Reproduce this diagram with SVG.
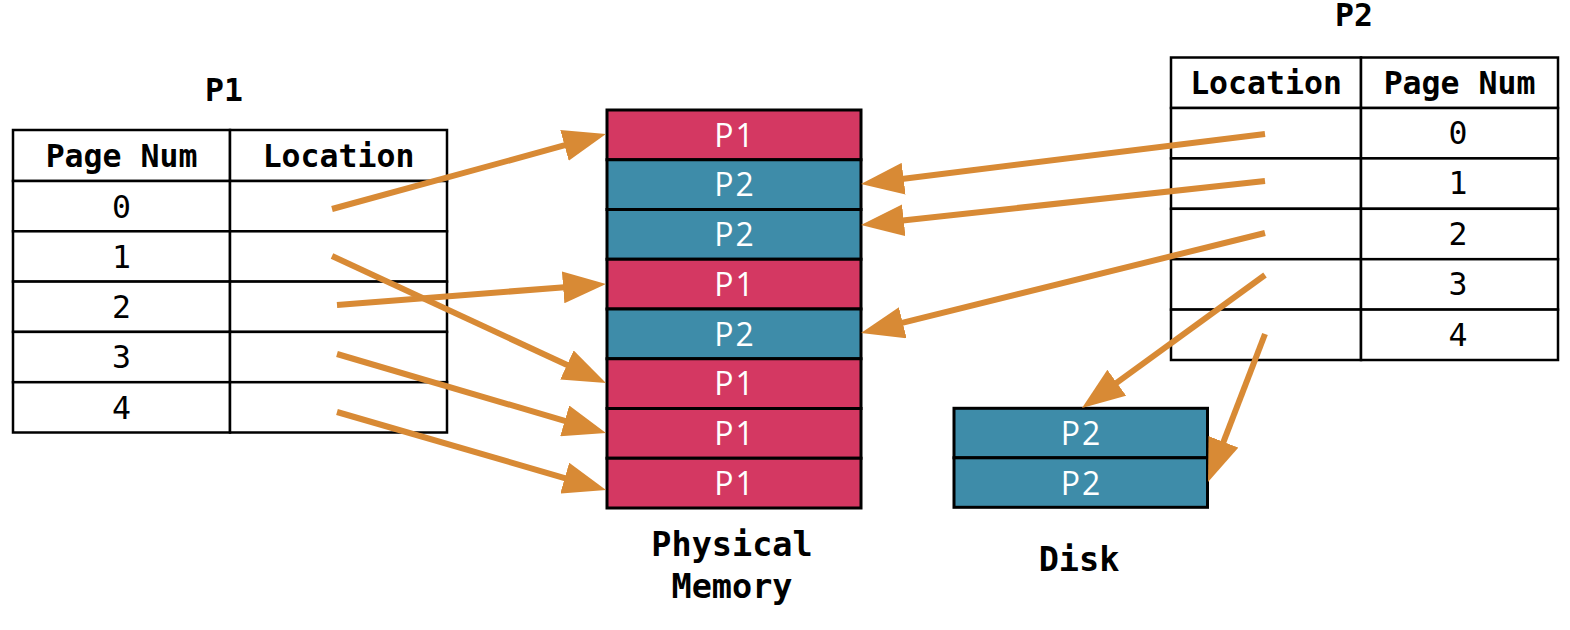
<svg xmlns="http://www.w3.org/2000/svg" width="1570" height="630" viewBox="0 0 1570 630">
<style>
.cell{fill:#fff;stroke:#000;stroke-width:2.5}
.mono{font-family:"DejaVu Sans Mono","Liberation Mono",monospace;font-size:31.5px;fill:#000;text-anchor:middle}
.b{font-weight:bold}
.lbl{font-size:33.5px}
.p1{fill:#D43862;stroke:#000;stroke-width:3}
.p2{fill:#3E8CA9;stroke:#000;stroke-width:3}
.blk{font-family:"Open Sans","Noto Sans",sans-serif;font-size:32px;letter-spacing:2px;fill:#fff;text-anchor:middle}
.arr{stroke:#D88A35;stroke-width:6;fill:none;marker-end:url(#ah)}
</style>
<defs>
<marker id="ah" markerUnits="userSpaceOnUse" markerWidth="43" markerHeight="32" viewBox="0 0 43 32" refX="8" refY="16" orient="auto">
<path d="M0,0 L43,16 L0,32 z" fill="#D88A35"/>
</marker>
</defs>
<rect width="1570" height="630" fill="#fff"/>

<g id="p1-table">
<text class="mono b" x="224" y="101">P1</text>
<rect class="cell" x="13" y="130" width="217" height="51"/>
<rect class="cell" x="230" y="130" width="217" height="51"/>
<rect class="cell" x="13" y="181" width="217" height="50.3"/>
<rect class="cell" x="230" y="181" width="217" height="50.3"/>
<rect class="cell" x="13" y="231.3" width="217" height="50.3"/>
<rect class="cell" x="230" y="231.3" width="217" height="50.3"/>
<rect class="cell" x="13" y="281.6" width="217" height="50.3"/>
<rect class="cell" x="230" y="281.6" width="217" height="50.3"/>
<rect class="cell" x="13" y="331.9" width="217" height="50.3"/>
<rect class="cell" x="230" y="331.9" width="217" height="50.3"/>
<rect class="cell" x="13" y="382.2" width="217" height="50.3"/>
<rect class="cell" x="230" y="382.2" width="217" height="50.3"/>
<text class="mono b" x="121.5" y="167">Page Num</text>
<text class="mono b" x="338.5" y="167">Location</text>
<text class="mono" x="121.5" y="217.5">0</text>
<text class="mono" x="121.5" y="267.8">1</text>
<text class="mono" x="121.5" y="318.1">2</text>
<text class="mono" x="121.5" y="368.4">3</text>
<text class="mono" x="121.5" y="418.7">4</text>
</g>

<g id="p2-table">
<text class="mono b" x="1354" y="26">P2</text>
<rect class="cell" x="1171" y="57.5" width="190" height="50.5"/>
<rect class="cell" x="1361" y="57.5" width="197" height="50.5"/>
<rect class="cell" x="1171" y="108" width="190" height="50.4"/>
<rect class="cell" x="1361" y="108" width="197" height="50.4"/>
<rect class="cell" x="1171" y="158.4" width="190" height="50.4"/>
<rect class="cell" x="1361" y="158.4" width="197" height="50.4"/>
<rect class="cell" x="1171" y="208.8" width="190" height="50.4"/>
<rect class="cell" x="1361" y="208.8" width="197" height="50.4"/>
<rect class="cell" x="1171" y="259.2" width="190" height="50.4"/>
<rect class="cell" x="1361" y="259.2" width="197" height="50.4"/>
<rect class="cell" x="1171" y="309.6" width="190" height="50.4"/>
<rect class="cell" x="1361" y="309.6" width="197" height="50.4"/>
<text class="mono b" x="1266" y="94">Location</text>
<text class="mono b" x="1459.5" y="94">Page Num</text>
<text class="mono" x="1458" y="144">0</text>
<text class="mono" x="1458" y="194.4">1</text>
<text class="mono" x="1458" y="244.8">2</text>
<text class="mono" x="1458" y="295.2">3</text>
<text class="mono" x="1458" y="345.6">4</text>
</g>

<g id="physical-memory">
<rect class="p1" x="607" y="110" width="254" height="49.75"/>
<rect class="p2" x="607" y="159.75" width="254" height="49.75"/>
<rect class="p2" x="607" y="209.5" width="254" height="49.75"/>
<rect class="p1" x="607" y="259.25" width="254" height="49.75"/>
<rect class="p2" x="607" y="309" width="254" height="49.75"/>
<rect class="p1" x="607" y="358.75" width="254" height="49.75"/>
<rect class="p1" x="607" y="408.5" width="254" height="49.75"/>
<rect class="p1" x="607" y="458.25" width="254" height="49.75"/>
<text class="blk" x="735" y="146.5">P1</text>
<text class="blk" x="735" y="196.25">P2</text>
<text class="blk" x="735" y="246">P2</text>
<text class="blk" x="735" y="295.75">P1</text>
<text class="blk" x="735" y="345.5">P2</text>
<text class="blk" x="735" y="395.25">P1</text>
<text class="blk" x="735" y="445">P1</text>
<text class="blk" x="735" y="494.75">P1</text>
<text class="mono b lbl" x="732" y="556">Physical</text>
<text class="mono b lbl" x="732" y="598">Memory</text>
</g>

<g id="disk">
<rect class="p2" x="954" y="408.3" width="253.5" height="49.5"/>
<rect class="p2" x="954" y="457.8" width="253.5" height="49.5"/>
<text class="blk" x="1081.5" y="445">P2</text>
<text class="blk" x="1081.5" y="494.5">P2</text>
<text class="mono b lbl" x="1079" y="571">Disk</text>
</g>

<g id="connectors">
<line class="arr" x1="332" y1="209" x2="572.2" y2="143.2"/>
<line class="arr" x1="332" y1="256" x2="574.2" y2="368.3"/>
<line class="arr" x1="337" y1="305" x2="571.1" y2="286.7"/>
<line class="arr" x1="337" y1="354" x2="572.4" y2="423.1"/>
<line class="arr" x1="337" y1="412" x2="572.4" y2="480.3"/>
<line class="arr" x1="1265" y1="134" x2="895.7" y2="179.7"/>
<line class="arr" x1="1265" y1="181" x2="895.8" y2="221.2"/>
<line class="arr" x1="1265" y1="233" x2="895.0" y2="324.6"/>
<line class="arr" x1="1265" y1="275" x2="1110.3" y2="387.4"/>
<line class="arr" x1="1265" y1="334" x2="1220.6" y2="449.3"/>
</g>
</svg>
